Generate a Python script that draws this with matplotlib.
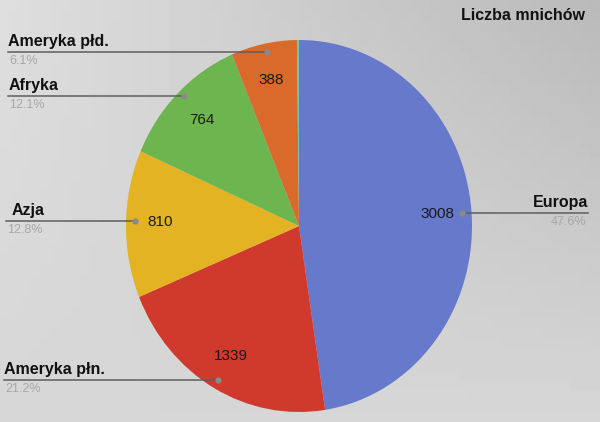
import matplotlib
matplotlib.use('Agg')
import matplotlib.pyplot as plt
import numpy as np

plt.rcParams['font.family'] = ['Liberation Sans', 'DejaVu Sans']

# Liczba mnichów wg kontynentu
labels = ['Europa', 'Ameryka płn.', 'Azja', 'Afryka', 'Ameryka płd.', 'Australia']
values = [3008, 1339, 810, 764, 388, 12]
colors = ['#6679cb', '#cf3a2d', '#e3b323', '#6db54f', '#d96a2c', '#6cc6ba']

# where the labels sit in picture pixels: (x of text, y of line, start/end of line, side)
label_pos = {
    'Europa': (588, 213, 588, 462, 'right'),
    'Ameryka płn.': (4, 380, 4, 218, 'left'),
    'Azja': (12, 221, 6, 135, 'left'),
    'Afryka': (9, 96, 8, 184, 'left'),
    'Ameryka płd.': (8, 52, 8, 267, 'left'),
}

W, H = 600, 422
fig = plt.figure(figsize=(W / 100, H / 100), dpi=100)
fig.patch.set_facecolor('#d3d4d6')

# background gradient (photo of a screen: lighter left, darker top right)
bg = fig.add_axes([0, 0, 1, 1])
xx, yy = np.meshgrid(np.linspace(0, 1, 60), np.linspace(0, 1, 40))
shade = 0.87 - 0.14 * xx * (1 - yy) - 0.03 * yy
bg.imshow(shade, cmap='gray', vmin=0, vmax=1, extent=[0, W, 0, H], aspect='auto')
bg.set_xlim(0, W)
bg.set_ylim(0, H)
bg.axis('off')

# pie (slightly elliptical as in the photo)
cx, cy, rx, ry = 299, 226, 173, 186
ax = fig.add_axes([(cx - rx) / W, (H - cy - ry) / H, 2 * rx / W, 2 * ry / H])
wedges, _ = ax.pie(values, colors=colors, startangle=90, counterclock=False,
                   radius=1, wedgeprops=dict(linewidth=0))
ax.set_aspect('auto')
ax.set_xlim(-1, 1)
ax.set_ylim(-1, 1)
ax.axis('off')

# overlay in pixel coords
ov = fig.add_axes([0, 0, 1, 1])
ov.set_xlim(0, W)
ov.set_ylim(H, 0)
ov.axis('off')

total = sum(values)
for w, lab, v in zip(wedges, labels, values):
    if lab not in label_pos:
        continue
    mid = np.deg2rad((w.theta1 + w.theta2) / 2)
    # value inside slice
    r_in = 0.8
    vx = cx + rx * r_in * np.cos(mid)
    vy = cy - ry * r_in * np.sin(mid)
    tx, ly, lx, ex, side = label_pos[lab]
    if lab in ('Azja', 'Europa'):
        vy = ly + 1
        vx = cx + rx * 0.8 * np.cos(mid)
    ov.text(vx, vy, str(v), ha='center', va='center', fontsize=11, color='#1a1a1a')
    # leader line from label to slice edge
    ov.plot([lx, ex], [ly, ly], color='#5e5e5e', lw=1.1)
    ov.plot([ex], [ly], 'o', color='#8a8a8a', ms=3.5)
    pct = '%.1f%%' % (100.0 * v / total)
    ov.text(tx, ly - 3, lab, ha=side, va='bottom', fontsize=11.5,
            fontweight='bold', color='#111111')
    ov.text(lx + (1 if side == 'left' else -2), ly + 3, pct, ha=side, va='top',
            fontsize=9, color='#a8a8a8')

ov.text(523, 16, 'Liczba mnichów', ha='center', va='center', fontsize=11.5,
        fontweight='bold', color='#111111')

fig.savefig('out.png', dpi=100, facecolor=fig.get_facecolor())
